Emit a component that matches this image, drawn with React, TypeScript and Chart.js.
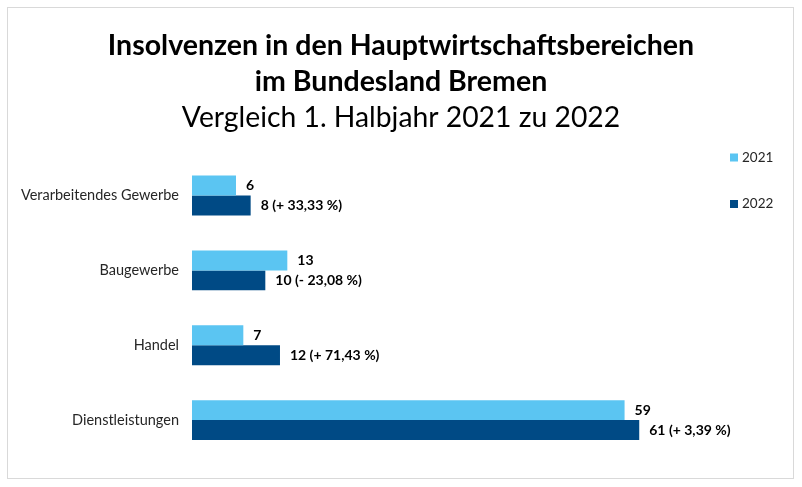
import React, { useEffect, useRef } from "react";
import { Chart, registerables } from "chart.js";

Chart.register(...registerables);

const categories = ["Verarbeitendes Gewerbe", "Baugewerbe", "Handel", "Dienstleistungen"];
const values2021 = [6, 13, 7, 59];
const values2022 = [8, 10, 12, 61];
const labels2021 = ["6", "13", "7", "59"];
const labels2022 = ["8 (+ 33,33 %)", "10 (- 23,08 %)", "12 (+ 71,43 %)", "61 (+ 3,39 %)"];
const seriesNames = ["2021", "2022"];
const colors = ["#5BC5F2", "#004A85"];

const FONT = "Lato, 'Open Sans', sans-serif";

const valueLabelPlugin = {
  id: "valueLabels",
  afterDatasetsDraw(chart: any) {
    const ctx = chart.ctx;
    ctx.save();
    ctx.font = `bold 14px ${FONT}`;
    ctx.fillStyle = "#000";
    ctx.textAlign = "left";
    ctx.textBaseline = "middle";
    chart.data.datasets.forEach((ds: any, di: number) => {
      const meta = chart.getDatasetMeta(di);
      meta.data.forEach((bar: any, i: number) => {
        ctx.fillText(ds.valueLabels[i], bar.x + 10, bar.y);
      });
    });
    ctx.restore();
  },
};

const legendBorderPlugin = {
  id: "legendBorder",
  afterDraw(chart: any) {
    const ctx = chart.ctx;
    ctx.save();
    ctx.strokeStyle = "#d9d9d9";
    ctx.lineWidth = 1;
    ctx.strokeRect(7.5, 7.5, 786, 471);
    ctx.font = `13.5px ${FONT}`;
    ctx.textBaseline = "middle";
    ctx.textAlign = "left";
    const ys = [157.5, 204];
    chart.data.datasets.forEach((ds: any, di: number) => {
      ctx.fillStyle = ds.backgroundColor;
      ctx.fillRect(730, ys[di] - 4, 8, 8);
      ctx.fillStyle = "#262626";
      ctx.fillText(ds.label, 742, ys[di]);
    });
    ctx.restore();
  },
};

export default function App() {
  const ref = useRef<HTMLCanvasElement>(null);
  useEffect(() => {
    const chart = new Chart(ref.current!, {
      type: "bar",
      data: {
        labels: categories,
        datasets: [
          { label: seriesNames[0], data: values2021, backgroundColor: colors[0], valueLabels: labels2021 } as any,
          { label: seriesNames[1], data: values2022, backgroundColor: colors[1], valueLabels: labels2022 } as any,
        ],
      },
      options: {
        indexAxis: "y",
        animation: false,
        responsive: false,
        devicePixelRatio: 1,
        layout: { padding: { left: 0, right: 0, top: 0, bottom: 29.5 } },
        datasets: { bar: { barPercentage: 1, categoryPercentage: 0.533 } },
        scales: {
          x: { display: false, min: 0, max: 83.2 },
          y: {
            grid: { display: false },
            border: { display: false },
            ticks: { font: { family: FONT, size: 14.5 }, color: "#262626", padding: 5 },
            afterFit(scale: any) { scale.width = 192; },
          },
        },
        plugins: {
          legend: { display: false },
          tooltip: { enabled: false },
          title: {
            display: true,
            text: ["Insolvenzen in den Hauptwirtschaftsbereichen", "im Bundesland Bremen"],
            font: { family: FONT, size: 28.5, weight: "bold", lineHeight: 1.26 },
            color: "#000",
            padding: { top: 27.5, bottom: 0 },
          },
          subtitle: {
            display: true,
            text: "Vergleich 1. Halbjahr 2021 zu 2022",
            font: { family: FONT, size: 28.3, weight: "normal", lineHeight: 1.3 },
            color: "#000",
            padding: { top: 0, bottom: 22 },
          },
        },
      } as any,
      plugins: [valueLabelPlugin, legendBorderPlugin],
    });
    return () => chart.destroy();
  }, []);
  return (
    <div style={{ position: "absolute", left: 0, top: 0, width: 802, height: 487, background: "#fff" }}>
      <canvas ref={ref} width={802} height={487} style={{ width: 802, height: 487 }} />
    </div>
  );
}
